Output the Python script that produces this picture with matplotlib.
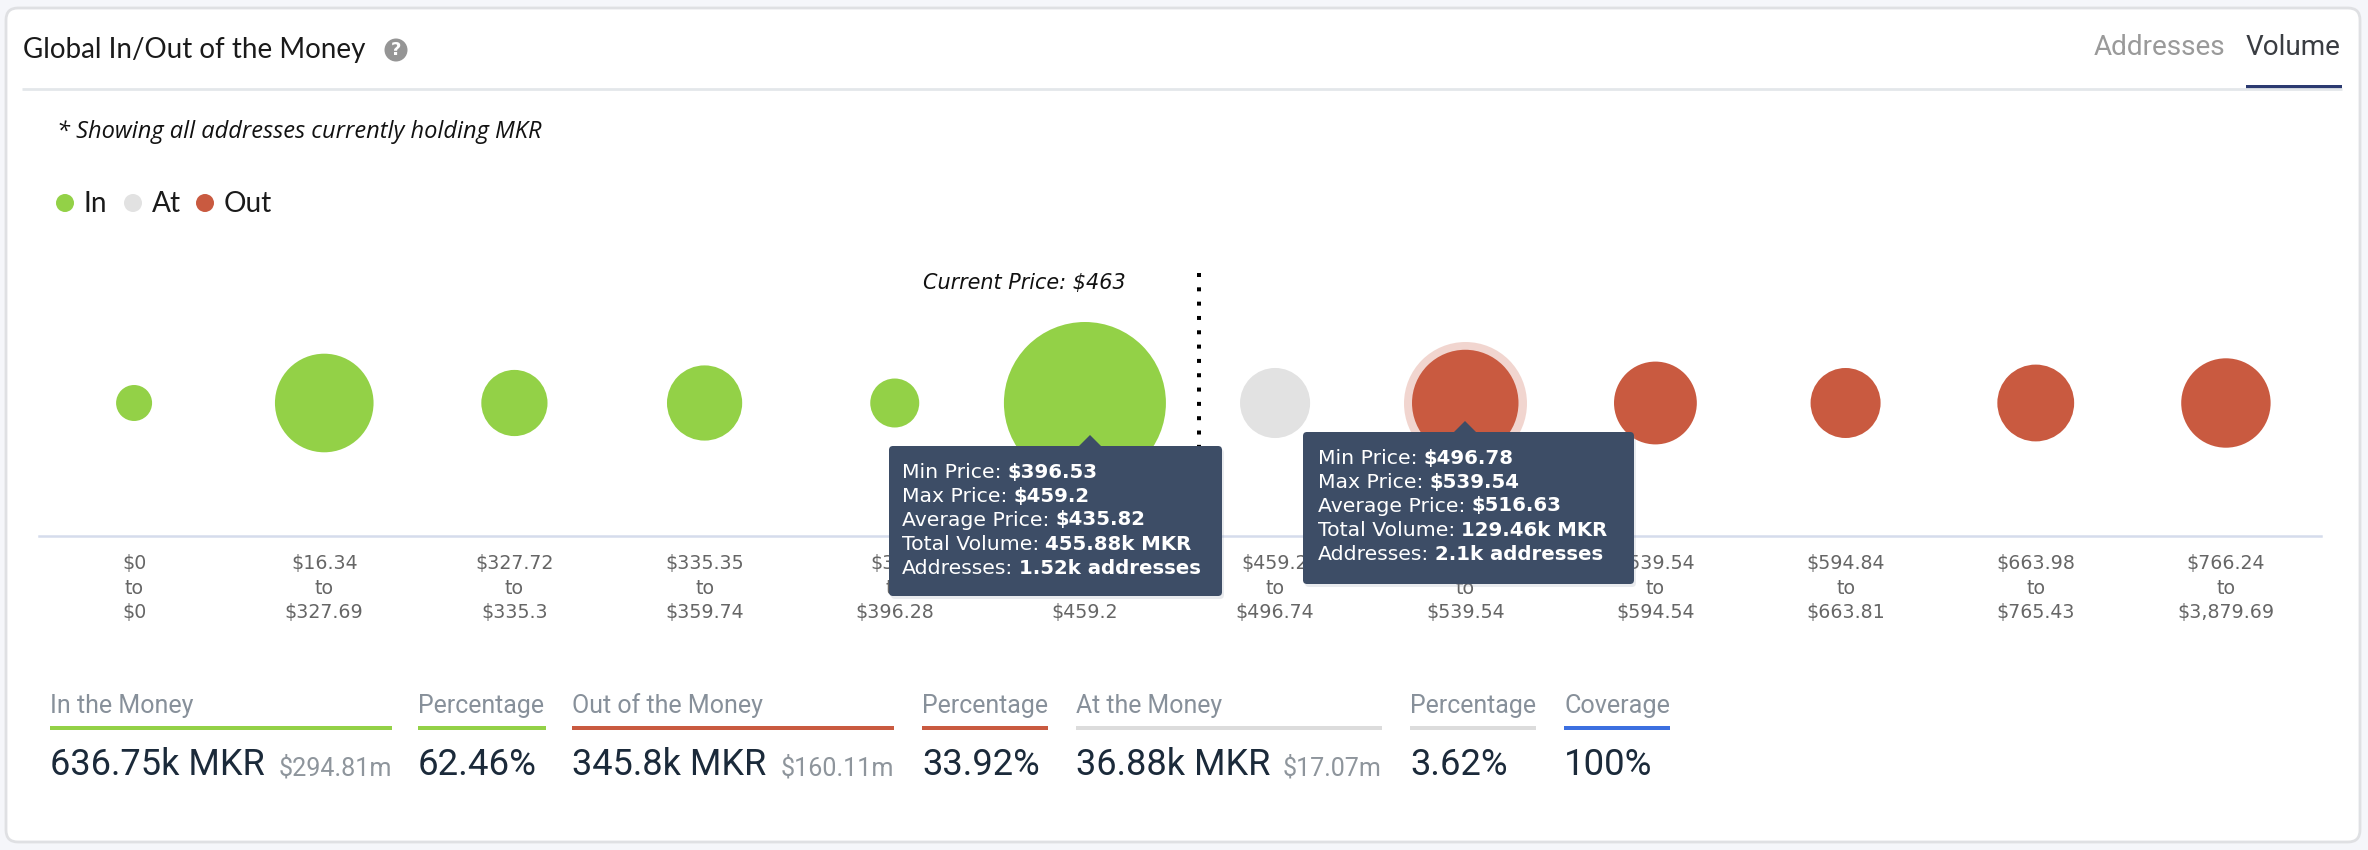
import matplotlib
matplotlib.use("Agg")
import matplotlib.pyplot as plt
from matplotlib.patches import FancyBboxPatch, Rectangle, Polygon, Circle

W, H, DPI = 2368, 850, 100

# ---------- data ----------
range_low = ["$0", "$16.34", "$327.72", "$335.35", "$360", "$396.53",
             "$459.2", "$496.78", "$539.54", "$594.84", "$663.98", "$766.24"]
range_high = ["$0", "$327.69", "$335.3", "$359.74", "$396.28", "$459.2",
              "$496.74", "$539.54", "$594.54", "$663.81", "$765.43", "$3,879.69"]
volumes_k = [5.0, 102.8, 31.1, 45.6, 12.6, 455.88, 36.88, 129.46, 60.9, 36.8, 48.6, 76.6]
status = ["In", "In", "In", "In", "In", "In", "At", "Out", "Out", "Out", "Out", "Out"]
current_price_label = "Current Price: $463"
current_price_pos = 5.6
tooltip_a = [("Min Price: ", "$396.53"), ("Max Price: ", "$459.2"), ("Average Price: ", "$435.82"),
             ("Total Volume: ", "455.88k MKR"), ("Addresses: ", "1.52k addresses")]
tooltip_b = [("Min Price: ", "$496.78"), ("Max Price: ", "$539.54"), ("Average Price: ", "$516.63"),
             ("Total Volume: ", "129.46k MKR"), ("Addresses: ", "2.1k addresses")]
stat_labels = ["In the Money", "Percentage", "Out of the Money", "Percentage", "At the Money", "Percentage", "Coverage"]
stat_values = ["636.75k MKR", "62.46%", "345.8k MKR", "33.92%", "36.88k MKR", "3.62%", "100%"]
stat_usd = ["$294.81m", "", "$160.11m", "", "$17.07m", "", ""]

GREEN, GRAY, RED = "#93d147", "#e2e2e2", "#c95a40"
COL = {"In": GREEN, "At": GRAY, "Out": RED}
NAVY = "#3d4d66"

fig = plt.figure(figsize=(W / DPI, H / DPI), dpi=DPI, facecolor="#f5f6fa")


def px_axes(z):
    a = fig.add_axes([0, 0, 1, 1], zorder=z)
    a.set_xlim(0, W)
    a.set_ylim(H, 0)
    a.axis("off")
    a.patch.set_alpha(0)
    return a


back = px_axes(0)
front = px_axes(5)
back.add_patch(FancyBboxPatch((6, 8), 2354, 834, boxstyle="round,pad=0,rounding_size=12",
                              fc="white", ec="#dfe0e3", lw=2))


def T(ax, x, y, s, width=None, px=19, family="DejaVu Sans", color="black", ha="left", va="center",
      style="normal", weight="normal"):
    t = ax.text(x, y, s, fontsize=px * 72 / DPI, family=family, color=color, ha=ha, va=va,
                style=style, weight=weight)
    if width:
        w = t.get_window_extent(fig.canvas.get_renderer()).width
        t.set_fontsize(t.get_fontsize() * width / w)
    return t


# header
T(back, 23, 50, "Global In/Out of the Money", width=342, family="Lato", color="#1a1a1a")
back.add_patch(Circle((396, 50), 11.5, fc="#959595", ec="none"))
T(back, 396, 50, "?", px=18, family="DejaVu Sans", color="white", ha="center", weight="bold")
back.plot([22, 2342], [89, 89], color="#e3e7ea", lw=2.0, solid_capstyle="butt")
back.add_patch(Rectangle((2246, 85), 96, 3.5, fc="#2b3a70", ec="none"))
T(back, 2094, 47, "Addresses", width=133, family="Roboto", color="#9a9a9a")
T(back, 2246, 47, "Volume", width=95, family="Roboto", color="#3a3d42")
T(back, 57, 132, "* Showing all addresses currently holding MKR", width=486, family="Open Sans",
  style="italic", color="#111111")

# legend
for cx, tx, name in zip([65, 133, 205], [83, 152, 224], ["In", "At", "Out"]):
    back.add_patch(Circle((cx, 203), 9, fc=COL[name], ec="none"))
    T(back, tx, 204, name, px=28, family="Lato", color="#1a1a1a")

# bubbles
ax = fig.add_axes([39 / W, 1 - 536 / H, (2321 - 39) / W, (536 - 270) / H], zorder=2)
ax.patch.set_alpha(0)
ax.set_xlim(-0.5, 11.5)
ax.set_ylim(-133, 133)
for s in ["top", "left", "right"]:
    ax.spines[s].set_visible(False)
ax.spines["bottom"].set_color("#d5dcec")
ax.spines["bottom"].set_linewidth(1.8)
ax.set_yticks([])
ax.set_xticks(range(12))
ax.set_xticklabels([f"{a}\nto\n{b}" for a, b in zip(range_low, range_high)], linespacing=1.38,
                   fontsize=19 * 72 / DPI, color="#666666", family="DejaVu Sans")
ax.tick_params(axis="x", length=0, pad=13)


def area(v, scale=1.0):
    r = 10.525 * v ** (1 / 3) * scale
    return (2 * r * 72 / DPI) ** 2


xs = range(12)
ax.scatter(7, 0, s=area(volumes_k[7], 1.155), color=RED, alpha=0.25, lw=0)
ax.scatter(xs, [0] * 12, s=[area(v) for v in volumes_k], c=[COL[k] for k in status], lw=0, zorder=3)
ax.plot([current_price_pos] * 2, [130, -50], color="black", lw=4 * 72 / DPI,
        ls=(0, (1, 2.58)), dash_capstyle="butt", zorder=1)
T(back, 923, 283, current_price_label, width=203, style="italic", color="#111111")


# tooltips
def tooltip(x0, y0, x1, y1, apex, lines, tx, ty):
    front.add_patch(FancyBboxPatch((x0 + 2, y0 + 3), x1 - x0, y1 - y0, boxstyle="round,pad=0,rounding_size=4",
                                   fc="#8a94a6", ec="none", alpha=0.18))
    front.add_patch(FancyBboxPatch((x0, y0), x1 - x0, y1 - y0, boxstyle="round,pad=0,rounding_size=4",
                                   fc=NAVY, ec="none"))
    front.add_patch(Polygon([(apex[0] - 12, y0 + 1), apex, (apex[0] + 12, y0 + 1)], fc=NAVY, ec="none"))
    r = fig.canvas.get_renderer()
    for i, (a, b) in enumerate(lines):
        t = T(front, tx, ty + 24 * i, a.strip(), px=20.4, color="white")
        e = t.get_window_extent(r)
        T(front, e.x1 + 6, ty + 24 * i, b, px=19.8, color="white", weight="bold")


tooltip(889, 446, 1222, 596, (1090, 435), tooltip_a, 902, 472)
tooltip(1303, 432, 1634, 584, (1465, 421), tooltip_b, 1318, 458)

# stats row
lab_x = [50, 418, 572, 922, 1076, 1410, 1564]
bar_x1 = [392, 546, 894, 1048, 1382, 1536, 1670]
bar_c = [GREEN, GREEN, RED, RED, "#dcdcdc", "#dcdcdc", "#3c6fe0"]
val_w = [215, 119, 195, 118, 195, 98, 89]
usd_w = [113, 0, 113, 0, 99, 0, 0]
lab_w = [143, 126, 191, 126, 146, 126, 106]
for i in range(7):
    T(back, lab_x[i], 706, stat_labels[i], width=lab_w[i], family="Roboto", color="#87909a")
    back.add_patch(Rectangle((lab_x[i], 726), bar_x1[i] - lab_x[i], 4, fc=bar_c[i], ec="none"))
    T(back, lab_x[i], 775, stat_values[i], width=val_w[i], family="Roboto", color="#1b2a3a", va="baseline")
    if stat_usd[i]:
        T(back, bar_x1[i], 775, stat_usd[i], width=usd_w[i], family="Roboto", color="#8e959c", ha="right", va="baseline")

fig.savefig("out.png", dpi=DPI, facecolor=fig.get_facecolor())
